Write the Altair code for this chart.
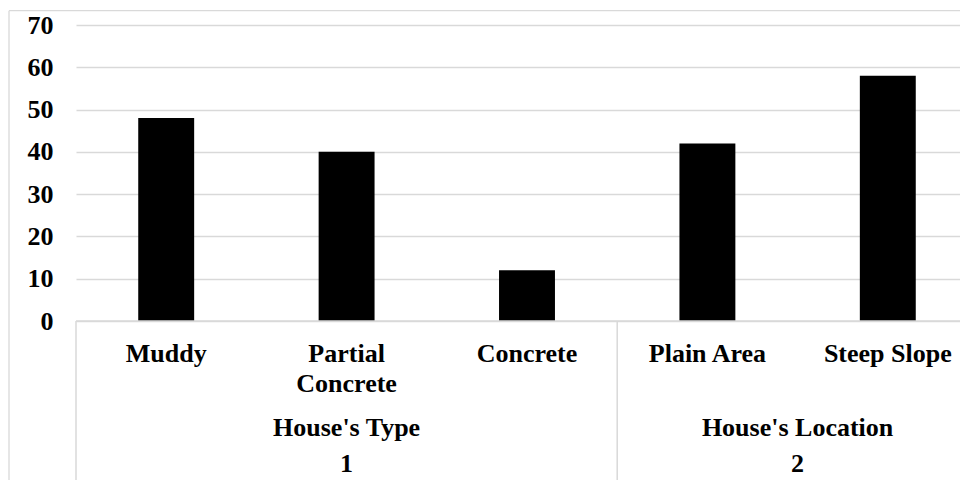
import altair as alt
import pandas as pd

categories = ["Muddy", "Partial Concrete", "Concrete", "Plain Area", "Steep Slope"]
cat_labels = ["Muddy", "Partial\nConcrete", "Concrete", "Plain Area", "Steep Slope"]
values = [48, 40, 12, 42, 58]
groups = ["House's Type", "House's Type", "House's Type", "House's Location", "House's Location"]
group_ids = ["1", "1", "1", "2", "2"]
y_ticks = [0, 10, 20, 30, 40, 50, 60, 70]

df = pd.DataFrame({"category": categories, "label": cat_labels, "value": values,
                   "group": groups, "gid": group_ids})
one = pd.DataFrame({"k": [0]})

FONT = "Liberation Serif"
GRID = "#d9d9d9"
W, H = 902, 296

xscale = alt.Scale(domain=categories, paddingInner=0, paddingOuter=0)
xenc = lambda bp=0.5: alt.X("category:N", scale=xscale, axis=None, sort=categories, bandPosition=bp)

bars = alt.Chart(df).mark_bar(color="black", width=alt.RelativeBandSize(0.31)).encode(
    x=alt.X("category:N", scale=xscale, axis=None, sort=categories),
    y=alt.Y("value:Q", scale=alt.Scale(domain=[0, 70], nice=False),
            axis=alt.Axis(values=y_ticks, grid=True, gridColor=GRID, gridWidth=1.4,
                          domain=False, ticks=False, labelFont=FONT, labelFontWeight="bold",
                          labelFontSize=26, labelColor="black", labelPadding=23, title=None)),
)

txt = dict(font=FONT, fontWeight="bold", fontSize=26, color="black", baseline="alphabetic",
           align="center", lineBreak="\n", lineHeight=30)

cat_text = alt.Chart(df).mark_text(**txt).encode(x=xenc(0.5), y=alt.value(336.5), text="label:N")

type_df = df[df["category"] == "Partial Concrete"]
loc_df = df[df["category"] == "Plain Area"]

GY, IY = 411, 447
type_text = alt.Chart(type_df).mark_text(**txt).encode(x=xenc(0.5), y=alt.value(GY), text="group:N")
type_id = alt.Chart(type_df).mark_text(**txt).encode(x=xenc(0.5), y=alt.value(IY), text="gid:N")
loc_text = alt.Chart(loc_df).mark_text(**txt).encode(x=xenc(1.0), y=alt.value(GY), text="group:N")
loc_id = alt.Chart(loc_df).mark_text(**txt).encode(x=xenc(1.0), y=alt.value(IY), text="gid:N")

div_df = df[df["category"].isin(["Muddy", "Plain Area"])]
dividers = alt.Chart(div_df).mark_rule(color=GRID, strokeWidth=1.5).encode(
    x=xenc(0.0), y=alt.value(H), y2=alt.value(520))

axis_line = alt.Chart(one).mark_rule(color=GRID, strokeWidth=1.5).encode(
    x=alt.value(0), x2=alt.value(W + 20), y=alt.value(H))
top_border = alt.Chart(one).mark_rule(color=GRID, strokeWidth=1.3).encode(
    x=alt.value(-67), x2=alt.value(W + 20), y=alt.value(-14.3))
left_border = alt.Chart(one).mark_rule(color=GRID, strokeWidth=1.3).encode(
    x=alt.value(-67), y=alt.value(-14.3), y2=alt.value(520))

chart = alt.layer(bars, axis_line, dividers, top_border, left_border,
                  cat_text, type_text, type_id, loc_text, loc_id).properties(
    width=W, height=H,
    autosize=alt.AutoSizeParams(type="none"),
    padding={"left": 68, "top": 17, "right": -18, "bottom": 159},
    background="white",
).configure_view(stroke=None)

chart.save("out.html", embed_options={"renderer": "svg", "actions": False})
